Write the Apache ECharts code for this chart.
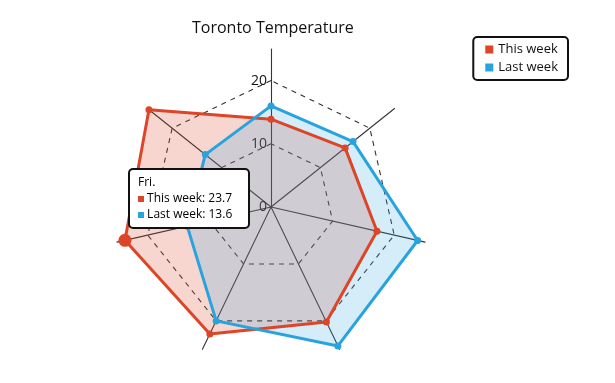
<!DOCTYPE html>
<html><head><meta charset="utf-8">
<script src="https://cdn.jsdelivr.net/npm/echarts@6/dist/echarts.min.js"></script>
<style>html,body{margin:0;padding:0;background:#fff}#c{width:615px;height:383px}</style>
</head><body><div id="c"></div>
<script>
// days run clockwise from the top axis
const days = ['Sun.', 'Mon.', 'Tue.', 'Wed.', 'Thu.', 'Fri.', 'Sat.'];
const thisWeek = [13.9, 15.0, 17.2, 20.2, 22.3, 23.7, 24.7];
const lastWeek = [16.0, 16.6, 23.8, 24.4, 20.0, 13.6, 13.3];
const ringTicks = [0, 10, 20];
const seriesNames = ['This week', 'Last week'];
const highlightDay = 'Fri.';

const FONT = 'Open Sans';
const RED = '#dd4528', BLUE = '#28a3dd';
const AXIS_MAX = 25;
const RING_MAX = ringTicks[ringTicks.length - 1];
const R = 158;
const C = [271, 207];
// ECharts lays indicators counter-clockwise; reorder so days run clockwise
const order = days.map((d, i) => i === 0 ? 0 : days.length - i);
const ccw = arr => order.map(i => arr[i]);

const hi = days.indexOf(highlightDay);
const tipText = '{h|' + highlightDay + '}\n{r|}{v| ' + seriesNames[0] + ': ' + thisWeek[hi] + '}\n{b|}{v| ' + seriesNames[1] + ': ' + lastWeek[hi] + '}';

const sets = [[seriesNames[0], thisWeek, RED, 0.22], [seriesNames[1], lastWeek, BLUE, 0.2]];
const areaSeries = sets.map(([n, v, col, op]) => ({
  name: n, type: 'radar', radarIndex: 0, symbol: 'none',
  itemStyle: {color: col}, lineStyle: {width: 0, opacity: 0},
  areaStyle: {color: col, opacity: op},
  data: [{value: ccw(v), name: n}]
}));
const lineSeries = sets.map(([n, v, col]) => ({
  name: n, type: 'radar', radarIndex: 0, symbol: 'circle', symbolSize: 7, z: 3,
  itemStyle: {color: col}, lineStyle: {color: col, width: 3},
  data: [{value: ccw(v), name: n}]
}));

const chart = echarts.init(document.getElementById('c'), null, {renderer: 'canvas'});
chart.setOption({
  animation: false,
  textStyle: {fontFamily: FONT},
  title: {text: 'Toronto Temperature', left: 187, top: 15,
    textStyle: {fontFamily: FONT, fontSize: 16, fontWeight: 'normal', color: '#111'}},
  legend: {data: seriesNames, orient: 'vertical', right: 47, top: 37, icon: 'rect',
    itemWidth: 8, itemHeight: 8, itemGap: 5,
    textStyle: {fontFamily: FONT, fontSize: 13, color: '#111'},
    borderColor: '#111', borderWidth: 2, borderRadius: 4, padding: [6, 10, 6, 12]},
  radar: [
    {
      center: C, radius: R, shape: 'polygon', startAngle: 90,
      indicator: ccw(days).map(n => ({name: n, min: 0, max: AXIS_MAX})),
      splitNumber: 1,
      axisName: {show: false},
      splitLine: {show: false}, splitArea: {show: false},
      axisLine: {lineStyle: {color: '#333', width: 1.1}}
    },
    {
      center: C, radius: R * RING_MAX / AXIS_MAX, shape: 'polygon', startAngle: 90,
      indicator: ccw(days).map((n, i) => ({name: n, min: ringTicks[0], max: RING_MAX,
        axisLabel: {show: i === 0}})),
      splitNumber: ringTicks.length - 1,
      axisName: {show: false},
      splitArea: {show: false},
      splitLine: {lineStyle: {color: '#333', width: 1.1, type: [5, 5]}},
      axisLine: {show: false},
      axisTick: {show: false},
      axisLabel: {show: false, fontFamily: FONT, fontSize: 14, color: '#111', margin: 4}
    }
  ],
  series: areaSeries.concat(lineSeries)
});

// highlighted point placed through the radar's own scale
const radarCS = chart.getModel().getComponent('radar', 0).coordinateSystem;
const hiPos = radarCS.dataToPoint(thisWeek[hi], order.indexOf(hi));
chart.setOption({
  graphic: [
    {type: 'circle', z: 50, shape: {cx: hiPos[0], cy: hiPos[1], r: 6.5}, style: {fill: RED}},
    {
      type: 'group', left: 128, top: 168, z: 100,
      children: [
        {type: 'rect', z: 100, shape: {x: 0, y: 0, width: 120, height: 59, r: 4},
          style: {fill: '#fff', stroke: '#111', lineWidth: 2}},
        {type: 'text', z: 101, x: 9, y: 6, style: {text: tipText, fontFamily: FONT,
          rich: {
            h: {fontSize: 12, lineHeight: 16, color: '#111', fontFamily: FONT},
            v: {fontSize: 12, lineHeight: 16, color: '#111', fontFamily: FONT},
            r: {width: 6, height: 6, backgroundColor: RED},
            b: {width: 6, height: 6, backgroundColor: BLUE}
          }}}
      ]
    }
  ]
});
</script></body></html>
